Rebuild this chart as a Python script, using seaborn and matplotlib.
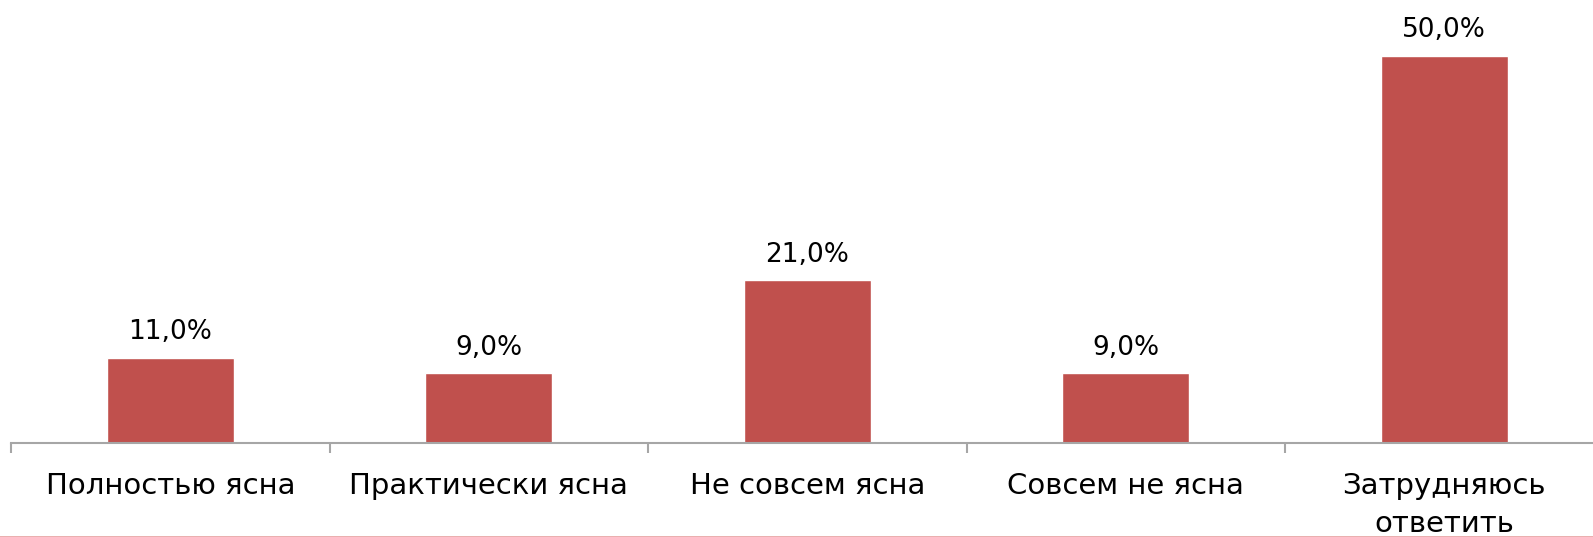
import numpy as np
import pandas as pd
import matplotlib
matplotlib.use('Agg')
import matplotlib.pyplot as plt
import seaborn as sns
from matplotlib.lines import Line2D

# answers and shares (%)
categories = ['Полностью ясна', 'Практически ясна', 'Не совсем ясна', 'Совсем не ясна', 'Затрудняюсь\nответить']
values = [11.0, 9.0, 21.0, 9.0, 50.0]

sns.set_style('white')
plt.rcParams['font.family'] = ['DejaVu Sans']

df = pd.DataFrame({'cat': categories, 'val': values})

W, H = 1593, 537
fig = plt.figure(figsize=(W / 100, H / 100), dpi=100)
ax = fig.add_axes([11 / W, (H - 443) / H, 1592.5 / W, 443 / H])

sns.barplot(data=df, x='cat', y='val', color='#c0504d', width=0.4, saturation=1, ax=ax)
ax.set_xlim(-0.5, 4.5)
ax.set_ylim(0, 57.2)

for i, v in enumerate(values):
    ax.annotate(f'{v:.1f}%'.replace('.', ','), (i, v), xytext=(0, 9), textcoords='offset points',
                ha='center', va='bottom', fontsize=19, color='black')

for s in ['top', 'right', 'left']:
    ax.spines[s].set_visible(False)
ax.spines['bottom'].set_color('#a6a6a6')
ax.spines['bottom'].set_linewidth(1.5)
ax.set_yticks([])
ax.set_xlabel('')
ax.set_ylabel('')
ax.set_xticks(np.arange(-0.5, 5.0, 1.0), minor=True)
ax.tick_params(axis='x', which='minor', bottom=True, length=7, width=1.5, color='#a6a6a6', direction='out')
ax.tick_params(axis='x', which='major', bottom=True, length=0, pad=21, labelsize=21, labelcolor='black')
for lab in ax.get_xticklabels():
    lab.set_verticalalignment('top')
    lab.set_linespacing(1.45)

# thin line along the bottom edge
fig.add_artist(Line2D([0, 1], [0.5 / H, 0.5 / H], color='#e6a0a0', lw=1.2, transform=fig.transFigure))

fig.savefig('out.png', dpi=100)
